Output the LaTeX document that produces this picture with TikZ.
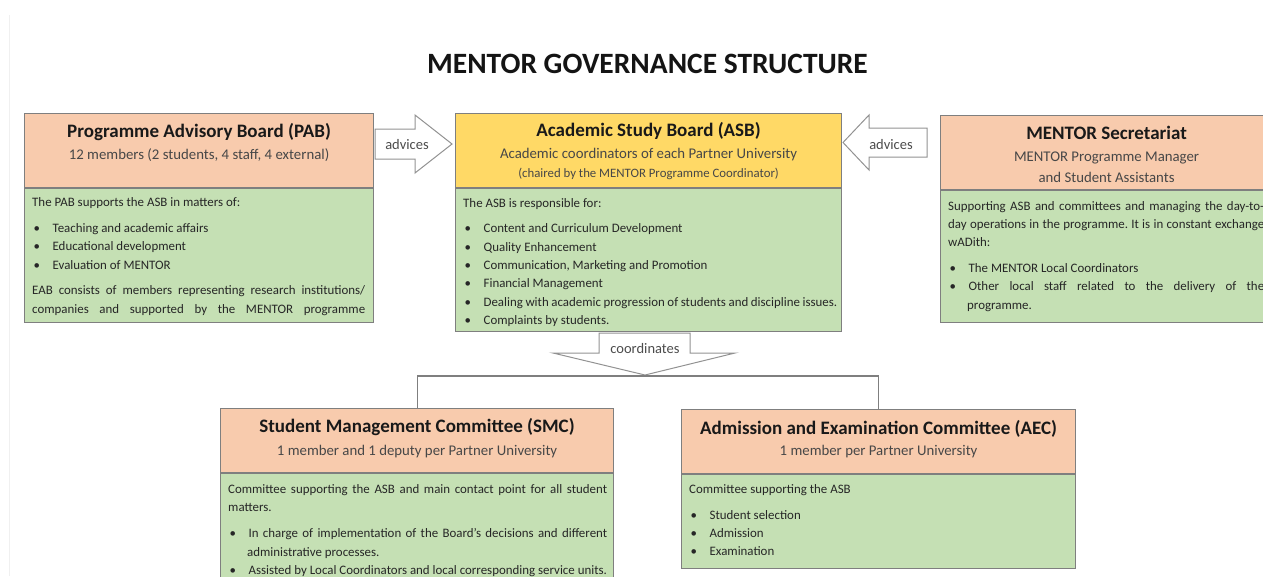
\documentclass[tikz,border=0pt]{standalone}
\usepackage{fontspec}
\setmainfont{Carlito}
\usepackage{enumitem}

\definecolor{peach}{HTML}{F8CBAD}
\definecolor{gold}{HTML}{FFD966}
\definecolor{leaf}{HTML}{C5E0B4}
\definecolor{edge}{HTML}{7F7F7F}

\newcommand{\notefont}{\fontsize{12.9}{18.3}\selectfont\frenchspacing\hyphenpenalty=10000\tolerance=9000}
\newenvironment{duties}{\begin{itemize}[nosep,topsep=7.5pt,leftmargin=19pt,labelwidth=5pt,labelsep=12.5pt,align=left,label=\textbullet]}{\end{itemize}}

\begin{document}
\begin{tikzpicture}[x=1pt,y=-1pt,
  board/.style={draw=edge, line width=1.1pt, inner sep=0pt, anchor=north west},
  boardtitle/.style={anchor=base, inner sep=0pt, font=\bfseries\fontsize{19}{23}\selectfont, text=black!90},
  boardsub/.style={anchor=base, inner sep=0pt, font=\fontsize{14.8}{18}\selectfont, text=black!72},
  boardsmall/.style={anchor=base, inner sep=0pt, font=\fontsize{12.8}{15}\selectfont, text=black!72},
  boardnote/.style={anchor=base west, inner sep=0pt, text width=#1, align=justify, font=\notefont, text=black!85},
  flow/.style={draw=edge!85, line width=1pt, fill=white, line join=miter},
  flowtext/.style={anchor=base, inner sep=0pt, font=\fontsize{14.5}{17}\selectfont, text=black!70},
  wire/.style={draw=edge, line width=1.1pt}]
\useasboundingbox (0,0) rectangle (1263,576);
\clip (0,0) rectangle (1263,576);
\draw[black!6, line width=1pt] (9,15) -- (9,576);
\node[anchor=base, inner sep=0pt, font=\bfseries\fontsize{29.5}{34}\selectfont, text=black!92] (title) at (647.5,73) {MENTOR GOVERNANCE STRUCTURE};

% Drawing boards
% Board 1: Programme Advisory Board
\node[board, fill=peach, minimum width=349pt, minimum height=74pt] (pab) at (24,113) {};
\node[board, fill=leaf, minimum width=349pt, minimum height=134pt] (pabb) at (pab.south west) {};
\node[boardtitle] (pabt) at ([yshift=-24pt]pab.north) {Programme Advisory Board (PAB)};
\node[boardsub] (pabs) at ([yshift=-46pt]pab.north) {12 members (2 students, 4 staff, 4 external)};
\node[boardnote=333pt] (pabn) at ([xshift=8pt,yshift=-18.5pt]pabb.north west) {The PAB supports the ASB in matters of:
\begin{duties}
\item Teaching and academic affairs
\item Educational development
\item Evaluation of MENTOR
\end{duties}
{\parfillskip=0pt EAB consists of members representing research institutions/\linebreak companies and supported by the MENTOR programme\par}};

% Board 2: Academic Study Board
\node[board, fill=gold, minimum width=386pt, minimum height=74pt] (asb) at (455,113) {};
\node[board, fill=leaf, minimum width=386pt, minimum height=143pt] (asbb) at (asb.south west) {};
\node[boardtitle] (asbt) at ([yshift=-23.5pt]asb.north) {Academic Study Board (ASB)};
\node[boardsub] (asbs) at ([yshift=-45.7pt]asb.north) {Academic coordinators of each Partner University};
\node[boardsmall] (asbc) at ([yshift=-64pt]asb.north) {(chaired by the MENTOR Programme Coordinator)};
\node[boardnote=374pt] (asbn) at ([xshift=8pt,yshift=-19pt]asbb.north west) {The ASB is responsible for:
\begin{duties}
\item Content and Curriculum Development
\item Quality Enhancement
\item Communication, Marketing and Promotion
\item Financial Management
\item Dealing with academic progression of students and discipline issues.
\item Complaints by students.
\end{duties}};

% Board 3: Secretariat
\node[board, fill=peach, minimum width=332pt, minimum height=74pt] (sec) at (940,115) {};
\node[board, fill=leaf, minimum width=332pt, minimum height=132pt] (secb) at (sec.south west) {};
\node[boardtitle] (sect) at ([yshift=-24pt]sec.north) {MENTOR Secretariat};
\node[boardsub] (secs) at ([yshift=-46pt]sec.north) {MENTOR Programme Manager};
\node[boardsub] (secs2) at ([yshift=-67pt]sec.north) {and Student Assistants};
\node[boardnote=316pt] (secn) at ([xshift=8pt,yshift=-20pt]secb.north west) {Supporting ASB and committees and managing the day-to-\linebreak day operations in the programme. It is in constant exchange\linebreak wADith:
\begin{duties}
\item The MENTOR Local Coordinators
\item Other local staff related to the delivery of the\linebreak programme.
\end{duties}};

% Board 4: Student Management Committee
\node[board, fill=peach, minimum width=393pt, minimum height=64pt] (smc) at (220,408) {};
\node[board, fill=leaf, minimum width=393pt, minimum height=120pt] (smcb) at (smc.south west) {};
\node[boardtitle] (smct) at ([yshift=-24.7pt]smc.north) {Student Management Committee (SMC)};
\node[boardsub] (smcs) at ([yshift=-47pt]smc.north) {1 member and 1 deputy per Partner University};
\node[boardnote=379pt] (smcn) at ([xshift=8pt,yshift=-20.5pt]smcb.north west) {Committee supporting the ASB and main contact point for all student matters.
\begin{duties}
\item In charge of implementation of the Board’s decisions and different\linebreak administrative processes.
\item Assisted by Local Coordinators and local corresponding service units.
\end{duties}};

% Board 5: Admission and Examination Committee
\node[board, fill=peach, minimum width=394pt, minimum height=64pt] (aec) at (681,409) {};
\node[board, fill=leaf, minimum width=394pt, minimum height=94pt] (aecb) at (aec.south west) {};
\node[boardtitle] (aect) at ([yshift=-25pt]aec.north) {Admission and Examination Committee (AEC)};
\node[boardsub] (aecs) at ([yshift=-46pt]aec.north) {1 member per Partner University};
\node[boardnote=380pt] (aecn) at ([xshift=8pt,yshift=-19.3pt]aecb.north west) {Committee supporting the ASB
\begin{duties}
\item Student selection
\item Admission
\item Examination
\end{duties}};
% Done with boards; drawing arrows

% advices: PAB to ASB
\draw[flow] (375,129) -- (415,129) -- (415,115) -- (452,144) -- (415,173) -- (415,159) -- (375,159) -- cycle;
\node[flowtext] (adv1) at (407,149) {advices};
% advices: Secretariat to ASB
\draw[flow] (927,128) -- (869,128) -- (869,115) -- (843,142.5) -- (869,170) -- (869,157) -- (927,157) -- cycle;
\node[flowtext] (adv2) at (891,149) {advices};
% coordinates: ASB to the committees
\draw[flow] (599,333) -- (690,333) -- (690,353) -- (735,353) -- (645,375) -- (553,353) -- (599,353) -- cycle;
\node[flowtext] (coord) at (645,353) {coordinates};
\coordinate (fork) at (645,376);
\draw[wire] (smc.north) |- (fork) -| (aec.north);
% Done with arrows
\end{tikzpicture}
\end{document}
